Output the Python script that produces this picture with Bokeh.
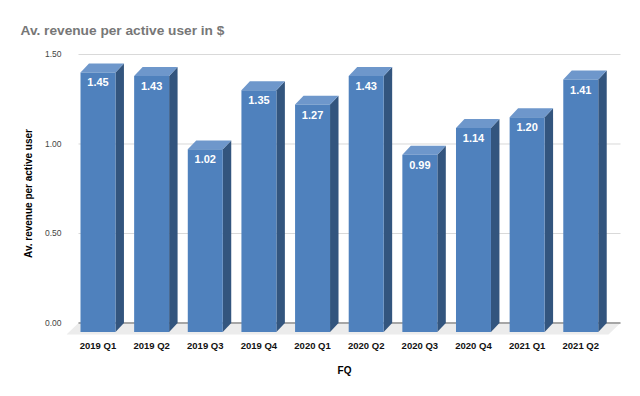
from bokeh.plotting import figure
from bokeh.models import FixedTicker, Range1d, ColumnDataSource, Title
from bokeh.embed import file_html
from bokeh.resources import INLINE

quarters = ["2019 Q1", "2019 Q2", "2019 Q3", "2019 Q4", "2020 Q1",
            "2020 Q2", "2020 Q3", "2020 Q4", "2021 Q1", "2021 Q2"]
revenue = [1.45, 1.43, 1.02, 1.35, 1.27, 1.43, 0.99, 1.14, 1.20, 1.41]
y_ticks = [0.0, 0.5, 1.0, 1.5]
y_tick_labels = ["0.00", "0.50", "1.00", "1.50"]

# 3D styling parameters (in data units)
w = 0.652   # front face width
dx = 0.158  # depth offset in x
dy = 0.050  # depth offset in y
n = len(quarters)

p = figure(frame_width=556, frame_height=286, output_backend="svg",
           toolbar_location=None,
           x_range=Range1d(-0.587, 9.778), y_range=Range1d(-0.0754, 1.5223),
           min_border_left=66, min_border_right=2, min_border_top=50,
           min_border_bottom=44)
p.outline_line_color = None
p.grid.visible = False
p.background_fill_color = "white"

# Title
p.title = Title(text="Av. revenue per active user in $", align="left",
                text_font="Liberation Sans", text_font_size="13.7px",
                text_font_style="bold", text_color="#777777", offset=-46,
                standoff=25)

# back-plane grid lines
gx0 = -0.3635
gx1 = n - 1 + 0.741
p.segment(x0=[gx0] * 3, x1=[gx1] * 3, y0=y_ticks[1:], y1=y_ticks[1:],
          line_color="#d9d9d9", line_width=1)

# floor
fd = 0.064
fs = 0.2235
p.patch([gx0, gx1, gx1 - fs, gx0 - fs], [0, 0, -fd, -fd],
        fill_color="#ececec", line_color=None)
p.segment(x0=[gx0], x1=[gx1], y0=[0], y1=[0], line_color="#a6a6a6", line_width=2)

xs = list(range(n))
x0 = [x - w / 2 for x in xs]
x1 = [x + w / 2 for x in xs]

side_xs = [[b, b, b + dx, b + dx] for b in x1]
side_ys = [[-dy, v - dy, v, 0] for v in revenue]
top_xs = [[a, b, b + dx, a + dx] for a, b in zip(x0, x1)]
top_ys = [[v - dy, v - dy, v, v] for v in revenue]

p.patches(side_xs, side_ys, fill_color="#33557e", line_color=None)
p.patches(top_xs, top_ys, fill_color="#6e97cb", line_color=None)
p.quad(left=x0, right=x1, bottom=[-dy] * n, top=[v - dy for v in revenue],
       fill_color="#4f81bd", line_color=None)

src = ColumnDataSource(dict(x=xs, y=[v - dy for v in revenue],
                            t=["%.2f" % v for v in revenue]))
p.text(x="x", y="y", text="t", source=src, text_align="center",
       text_baseline="top", y_offset=6, text_color="white",
       text_font_size="11px", text_font_style="bold",
       text_font={"value": "Liberation Sans"})

# axes
p.xaxis.ticker = FixedTicker(ticks=xs)
p.xaxis.major_label_overrides = {i: q for i, q in enumerate(quarters)}
p.xaxis.axis_label = "FQ"
p.yaxis.ticker = FixedTicker(ticks=y_ticks)
p.yaxis.major_label_overrides = {t: l for t, l in zip(y_ticks, y_tick_labels)}
p.yaxis.axis_label = "Av. revenue per active user"

for ax in (p.xaxis[0], p.yaxis[0]):
    ax.axis_line_color = None
    ax.major_tick_line_color = None
    ax.minor_tick_line_color = None
    ax.major_tick_out = 0
    ax.major_tick_in = 0
    ax.axis_label_text_font = "Liberation Sans"
    ax.axis_label_text_font_style = "bold"
    ax.axis_label_text_font_size = "10px"
    ax.axis_label_text_color = "#000000"
    ax.major_label_text_font = "Liberation Sans"

p.xaxis.major_label_text_font_size = "9.5px"
p.xaxis.major_label_text_font_style = "bold"
p.xaxis.major_label_text_color = "#111111"
p.xaxis.major_label_standoff = 3
p.xaxis.axis_label_standoff = 11

p.yaxis.major_label_text_font_size = "8.5px"
p.yaxis.major_label_text_color = "#444444"
p.yaxis.major_label_standoff = 5
p.yaxis.axis_label_standoff = 8

open("out.html", "w").write(file_html(p, INLINE))
